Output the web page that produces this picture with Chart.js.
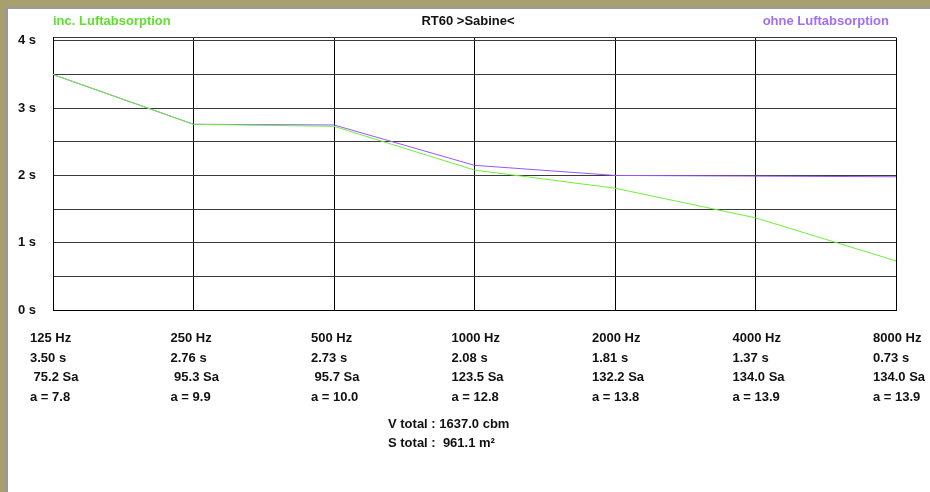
<!DOCTYPE html>
<html>
<head>
<meta charset="utf-8">
<script src="https://cdn.jsdelivr.net/npm/chart.js@4/dist/chart.umd.min.js"></script>
<style>
    html, body { margin: 0; padding: 0; }
    body { width: 930px; height: 492px; position: relative; overflow: hidden; background: #a89f6e; }
    #rahmen { position: absolute; left: 5px; top: 7px; right: 0; bottom: 0; background: #9a9a9a; }
    #innen { position: absolute; left: 8px; top: 9px; right: 0; bottom: 0; background: #ffffff; }
    #graphique { position: absolute; left: 0; top: 0; }
</style>
</head>
<body>
<div id="rahmen"></div>
<div id="innen"></div>
<canvas id="graphique" width="930" height="492"></canvas>
<script>
const frequenzen = ["125 Hz", "250 Hz", "500 Hz", "1000 Hz", "2000 Hz", "4000 Hz", "8000 Hz"];
const rt60Inc = [3.50, 2.76, 2.73, 2.08, 1.81, 1.37, 0.73];
const rt60Ohne = [3.50, 2.76, 2.75, 2.15, 2.00, 1.99, 1.98];
const sabine = [75.2, 95.3, 95.7, 123.5, 132.2, 134.0, 134.0];
const alpha = [7.8, 9.9, 10.0, 12.8, 13.8, 13.9, 13.9];
const yTicks = [0, 0.5, 1, 1.5, 2, 2.5, 3, 3.5, 4, 4.05];
const titre = "RT60 >Sabine<";
const vTotal = "V total : 1637.0 cbm";
const sTotal = "S total :  961.1 m²";

const police = "'Liberation Sans', Arial, sans-serif";

// multiline labels under each frequency
const labels = frequenzen.map(function (f, i) {
    return [
        f,
        rt60Inc[i].toFixed(2) + " s",
        sabine[i].toFixed(1).padStart(5, " ") + " Sa",
        "a = " + alpha[i].toFixed(1)
    ];
});

// labels start 23px left of their grid line
const decalage = {
    id: "decalage",
    beforeDraw(chart) {
        const items = chart.scales.x.getLabelItems(chart.chartArea);
        for (const it of items) {
            if (!it._decale) {
                it.options.translation = [it.options.translation[0] - 23, it.options.translation[1]];
                it._decale = true;
            }
        }
    }
};

const textes = {
    id: "textes",
    afterDraw(chart) {
        const ctx = chart.ctx;
        ctx.save();
        ctx.font = "bold 13px " + police;
        ctx.textBaseline = "middle";
        ctx.textAlign = "left";
        ctx.fillStyle = "#5fe030";
        ctx.fillText("inc. Luftabsorption", 53, 21);
        ctx.textAlign = "center";
        ctx.fillStyle = "#111";
        ctx.fillText(titre, 468, 21);
        ctx.textAlign = "right";
        ctx.fillStyle = "#a070f0";
        ctx.fillText("ohne Luftabsorption", 889, 21);
        ctx.textAlign = "left";
        ctx.fillStyle = "#111";
        ctx.fillText(vTotal, 388, 424);
        ctx.fillText(sTotal, 388, 443);
        ctx.restore();
    }
};

const data = {
    labels: labels,
    datasets: [{
        label: "inc. Luftabsorption",
        data: rt60Inc,
        borderColor: "#6cf03a",
        borderWidth: 1,
        pointRadius: 0,
        tension: 0
    }, {
        label: "ohne Luftabsorption",
        data: rt60Ohne,
        borderColor: "#9955ff",
        borderWidth: 1,
        pointRadius: 0,
        tension: 0
    }]
};

const config = {
    type: "line",
    data: data,
    options: {
        responsive: false,
        animation: false,
        devicePixelRatio: 1,
        layout: {
            padding: { top: 37.5, left: 18, right: 34, bottom: 0 }
        },
        scales: {
            x: {
                offset: false,
                grid: { color: "#000", lineWidth: 1, drawTicks: false },
                border: { color: "#000", width: 1 },
                ticks: {
                    align: "start",
                    maxRotation: 0,
                    autoSkip: false,
                    padding: 18.5,
                    color: "#111",
                    font: { family: police, size: 13, weight: "bold", lineHeight: 1.51 }
                },
                afterFit: function (scale) {
                    scale.height = 182;
                    scale.paddingLeft = 0;
                    scale.paddingRight = 0;
                }
            },
            y: {
                min: 0,
                max: 4.05,
                grid: { color: "#3a3a3a", lineWidth: 1, drawTicks: false },
                border: { color: "#000", width: 1 },
                afterBuildTicks: function (scale) {
                    scale.ticks = yTicks.map(v => ({ value: v }));
                },
                ticks: {
                    crossAlign: "far",
                    padding: 0,
                    color: "#111",
                    font: { family: police, size: 13, weight: "bold" },
                    callback: function (v) {
                        return Number.isInteger(v) ? v + " s" : "";
                    }
                },
                afterFit: function (scale) {
                    scale.width = 35;
                    scale.paddingTop = 0;
                    scale.paddingBottom = 0;
                }
            }
        },
        plugins: {
            title: { display: false },
            legend: { display: false },
            tooltip: { enabled: false }
        }
    },
    plugins: [decalage, textes]
};

const chart1 = new Chart(document.querySelector("#graphique"), config);
</script>
</body>
</html>
